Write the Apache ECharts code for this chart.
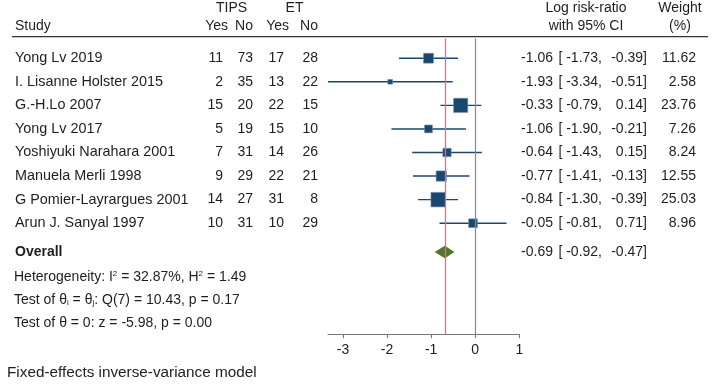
<!DOCTYPE html>
<html>
<head>
<meta charset="utf-8">
<script src="https://cdn.jsdelivr.net/npm/echarts@6/dist/echarts.min.js"></script>
<style>
html, body { margin: 0; padding: 0; background: #fff; }
#main { width: 720px; height: 387px; }
</style>
</head>
<body>
<div id="main"></div>
<script>
// study data
const studies = ['Yong Lv 2019', 'I. Lisanne Holster 2015', 'G.-H.Lo 2007', 'Yong Lv 2017',
    'Yoshiyuki Narahara 2001', 'Manuela Merli 1998', 'G Pomier-Layrargues 2001', 'Arun J. Sanyal 1997'];
const tipsYes = [11, 2, 15, 5, 7, 9, 14, 10];
const tipsNo = [73, 35, 20, 19, 31, 29, 27, 31];
const etYes = [17, 13, 22, 15, 14, 22, 31, 10];
const etNo = [28, 22, 15, 10, 26, 21, 8, 29];
const est = [-1.06, -1.93, -0.33, -1.06, -0.64, -0.77, -0.84, -0.05];
const ciLow = [-1.73, -3.34, -0.79, -1.90, -1.43, -1.41, -1.30, -0.81];
const ciHigh = [-0.39, -0.51, 0.14, -0.21, 0.15, -0.13, -0.39, 0.71];
const weights = [11.62, 2.58, 23.76, 7.26, 8.24, 12.55, 25.03, 8.96];
const overall = [-0.69, -0.92, -0.47];   // estimate, low, high
const xTicks = [-3, -2, -1, 0, 1];
const statLines = [
    'Heterogeneity: I{sup|2} = 32.87%, H{sup|2} = 1.49',
    'Test of θ{sub|i} = θ{sub|j}: Q(7) = 10.43, p = 0.17',
    'Test of θ = 0: z = -5.98, p = 0.00'
];
const note = 'Fixed-effects inverse-variance model';

// layout (pixels) -> row units
const ROWH = 23.57, OFF = 2.47;
function row(px) { return px / ROWH - OFF; }
const OVERALL_ROW = row(252);
const statRows = [row(277), row(300), row(323)];

const FONT = '"Liberation Sans", Arial, Helvetica, sans-serif';
const INK = '#1e1e1e';
const NAVY = '#1a476f';

function fmt(v) { return v.toFixed(2); }

function txt(str, x, y, align, extra) {
    return {
        type: 'text',
        style: Object.assign({
            text: str, x: x, y: y, fill: INK,
            fontSize: 14, fontFamily: FONT,
            align: align, verticalAlign: 'middle'
        }, extra || {})
    };
}

function tableRow(label, a, b, c, d, e, lo, hi, w, y, bold) {
    const out = [txt(label, 15, y, 'left', bold ? { fontWeight: 'bold' } : { fontSize: 14.4 })];
    if (a !== null) {
        out.push(txt(String(a), 223, y, 'right'));
        out.push(txt(String(b), 253, y, 'right'));
        out.push(txt(String(c), 284, y, 'right'));
        out.push(txt(String(d), 318, y, 'right'));
    }
    out.push(txt(fmt(e), 553, y, 'right'));
    out.push(txt('[ ' + fmt(lo) + ',', 602, y, 'right'));
    out.push(txt(fmt(hi) + ']', 647, y, 'right'));
    if (w !== null) out.push(txt(fmt(w), 696, y, 'right'));
    return out;
}

const chart = echarts.init(document.getElementById('main'));

const option = {
    animation: false,
    backgroundColor: '#fff',
    grid: [
        { left: 328, width: 191.3, top: 38.5, height: 295.8 },
        { left: 0, top: 0, width: 720, height: 387 }
    ],
    xAxis: [
        {
            gridIndex: 0, type: 'value', min: Math.min.apply(null, ciLow), max: 1,
            position: 'bottom',
            splitLine: { show: false },
            axisLine: { onZero: false, lineStyle: { color: '#777', width: 1 } },
            axisTick: { show: true, length: 4, lineStyle: { color: '#777' }, customValues: xTicks },
            axisLabel: { customValues: xTicks, color: INK, fontSize: 14, fontFamily: FONT, margin: 9 }
        },
        { gridIndex: 1, type: 'value', min: 0, max: 720, show: false }
    ],
    yAxis: [
        { gridIndex: 0, type: 'value', inverse: true, min: row(38.5), max: row(334.3), show: false },
        { gridIndex: 1, type: 'value', inverse: true, min: row(0), max: row(387), show: false }
    ],
    series: [
        {
            // reference lines: overall estimate and no effect
            type: 'line', xAxisIndex: 0, yAxisIndex: 0, data: [], z: 1,
            markLine: {
                silent: true, symbol: 'none', label: { show: false },
                data: [
                    { xAxis: overall[0], lineStyle: { color: '#e56b84', width: 1.3, type: 'solid' } },
                    { xAxis: 0, lineStyle: { color: '#8a8a8a', width: 1.2, type: 'solid' } }
                ]
            }
        },
        {
            // CI lines + weight squares
            type: 'custom', xAxisIndex: 0, yAxisIndex: 0, z: 3,
            data: est.map((v, i) => [ciLow[i], ciHigh[i], v, i, weights[i]]),
            renderItem: function (params, api) {
                const r = api.value(3);
                const lo = api.coord([api.value(0), r]);
                const hi = api.coord([api.value(1), r]);
                const c = api.coord([api.value(2), r]);
                const s = 2.9 * Math.sqrt(api.value(4));
                return {
                    type: 'group',
                    children: [
                        { type: 'line', shape: { x1: lo[0], y1: lo[1], x2: hi[0], y2: hi[1] },
                          style: { stroke: NAVY, lineWidth: 1.4 } },
                        { type: 'rect', shape: { x: c[0] - s / 2, y: c[1] - s / 2, width: s, height: s },
                          style: { fill: NAVY, stroke: '#6f8aa6', lineWidth: 0.6 } }
                    ]
                };
            }
        },
        {
            // overall diamond
            type: 'custom', xAxisIndex: 0, yAxisIndex: 0, z: 3,
            data: [[overall[1], overall[2], overall[0], OVERALL_ROW]],
            renderItem: function (params, api) {
                const r = api.value(3), h = 0.27;
                const p1 = api.coord([api.value(0), r]);
                const p2 = api.coord([api.value(2), r - h]);
                const p3 = api.coord([api.value(1), r]);
                const p4 = api.coord([api.value(2), r + h]);
                return { type: 'polygon', shape: { points: [p1, p2, p3, p4] }, style: { fill: '#55752f' } };
            }
        },
        {
            // table text for each study
            type: 'custom', xAxisIndex: 1, yAxisIndex: 1, z: 5,
            data: studies.map((s, i) => [0, i]),
            renderItem: function (params, api) {
                const i = params.dataIndex;
                const y = api.coord([0, api.value(1)])[1];
                return {
                    type: 'group',
                    children: tableRow(studies[i], tipsYes[i], tipsNo[i], etYes[i], etNo[i],
                        est[i], ciLow[i], ciHigh[i], weights[i], y, false)
                };
            }
        },
        {
            // headers, overall row, statistics and note
            type: 'custom', xAxisIndex: 1, yAxisIndex: 1, z: 5,
            data: [[0, 0]],
            renderItem: function (params, api) {
                const Y = r => api.coord([0, r])[1];
                const h1 = Y(row(8)), h2 = Y(row(26)), rule = Y(row(36.7));
                const kids = [
                    txt('TIPS', 231.5, h1, 'center'),
                    txt('ET', 294.5, h1, 'center'),
                    txt('Log risk-ratio', 586, h1, 'center'),
                    txt('Weight', 680, h1, 'center'),
                    txt('Study', 15, h2, 'left'),
                    txt('Yes', 228, h2, 'right'),
                    txt('No', 253, h2, 'right'),
                    txt('Yes', 289, h2, 'right'),
                    txt('No', 318, h2, 'right'),
                    txt('with 95% CI', 586, h2, 'center'),
                    txt('(%)', 680, h2, 'center'),
                    { type: 'line', shape: { x1: 12, y1: rule, x2: 708, y2: rule },
                      style: { stroke: '#333', lineWidth: 1.2 } }
                ];
                tableRow('Overall', null, null, null, null, overall[0], overall[1], overall[2], null,
                    Y(OVERALL_ROW), true).forEach(k => kids.push(k));
                statLines.forEach(function (s, j) {
                    kids.push(txt(s, 14, Y(statRows[j]), 'left', {
                        rich: {
                            sup: { fontSize: 8, fontFamily: FONT, fill: INK, verticalAlign: 'top', padding: [0, 0, 6, 0] },
                            sub: { fontSize: 8, fontFamily: FONT, fill: INK, verticalAlign: 'bottom', padding: [4, 0, 0, 0] }
                        }
                    }));
                });
                kids.push(txt(note, 7, Y(row(373)), 'left', { fontSize: 15.3 }));
                return { type: 'group', children: kids };
            }
        }
    ]
};

chart.setOption(option);
</script>
</body>
</html>
